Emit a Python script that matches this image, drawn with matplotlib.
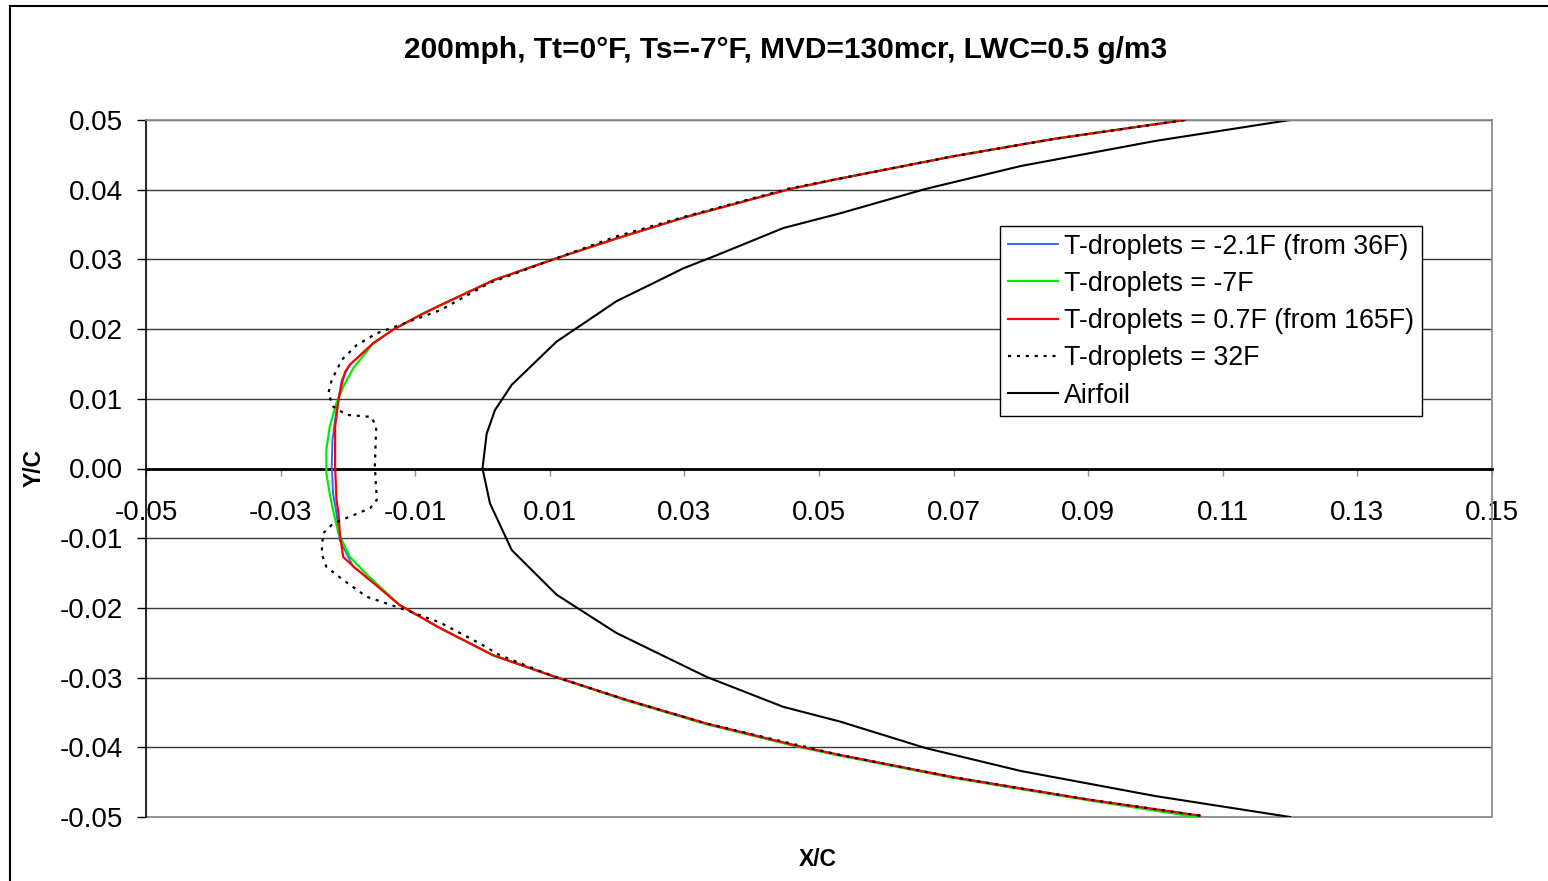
import matplotlib
matplotlib.use("Agg")
import matplotlib.pyplot as plt
from matplotlib.patches import Rectangle

plt.rcParams['font.family'] = ['Liberation Sans', 'DejaVu Sans']
plt.rcParams['axes.unicode_minus'] = False

# Ice shape contours, listed from the lower surface, around the leading edge, to the upper surface
red_x = [0.1066, 0.0900, 0.0700, 0.0531, 0.0472, 0.0333, 0.0214, 0.0105, 0.0016, -0.0063,
         -0.0123, -0.0155, -0.0190, -0.0207, -0.0212, -0.0214, -0.0217, -0.0219, -0.0219,
         -0.0214, -0.0209, -0.0204, -0.0197, -0.0162, -0.0133, -0.0093, -0.0063, 0.0016,
         0.0105, 0.0199, 0.0303, 0.0457, 0.0531, 0.0700, 0.0850, 0.1044]
red_y = [-0.0498, -0.0475, -0.0443, -0.0411, -0.0399, -0.0366, -0.0332, -0.0298, -0.0268, -0.0229,
         -0.0196, -0.0170, -0.0142, -0.0127, -0.0093, -0.0064, -0.0045, 0.0003, 0.0060,
         0.0098, 0.0122, 0.0139, 0.0149, 0.0180, 0.0199, 0.0220, 0.0234, 0.0270,
         0.0300, 0.0330, 0.0361, 0.0401, 0.0416, 0.0448, 0.0473, 0.0500]

green_x = [0.1060, 0.0900, 0.0700, 0.0531, 0.0472, 0.0333, 0.0214, 0.0105, 0.0016, -0.0063,
           -0.0123, -0.0172, -0.0197, -0.0214, -0.0222, -0.0227, -0.0232, -0.0232, -0.0227,
           -0.0217, -0.0207, -0.0192, -0.0162, -0.0133, -0.0093, -0.0063, 0.0016,
           0.0105, 0.0199, 0.0303, 0.0457, 0.0531, 0.0700, 0.0850, 0.1042]
green_y = [-0.0500, -0.0476, -0.0444, -0.0412, -0.0400, -0.0367, -0.0333, -0.0298, -0.0268, -0.0229,
           -0.0196, -0.0152, -0.0127, -0.0093, -0.0060, -0.0036, -0.0007, 0.0027, 0.0060,
           0.0094, 0.0117, 0.0144, 0.0180, 0.0199, 0.0220, 0.0234, 0.0270,
           0.0300, 0.0330, 0.0361, 0.0401, 0.0416, 0.0448, 0.0473, 0.0500]

blue_x = [0.1064, 0.0900, 0.0700, 0.0531, 0.0472, 0.0333, 0.0214, 0.0105, 0.0016, -0.0063,
          -0.0123, -0.0160, -0.0192, -0.0212, -0.0217, -0.0222, -0.0224, -0.0223, -0.0217,
          -0.0209, -0.0197, -0.0162, -0.0133, -0.0093, -0.0063, 0.0016,
          0.0105, 0.0199, 0.0303, 0.0457, 0.0531, 0.0700, 0.0850, 0.1043]
blue_y = [-0.0499, -0.0475, -0.0443, -0.0411, -0.0399, -0.0366, -0.0332, -0.0298, -0.0268, -0.0229,
          -0.0196, -0.0165, -0.0141, -0.0103, -0.0064, -0.0036, 0.0003, 0.0041, 0.0084,
          0.0127, 0.0149, 0.0180, 0.0199, 0.0220, 0.0234, 0.0270,
          0.0300, 0.0330, 0.0361, 0.0401, 0.0416, 0.0448, 0.0473, 0.0500]

dot_x = [0.1066, 0.0900, 0.0700, 0.0531, 0.0333, 0.0214, 0.0105, 0.0026, -0.0004, -0.0063,
         -0.0123, -0.0172, -0.0207, -0.0232, -0.0239, -0.0237, -0.0222, -0.0202, -0.0167,
         -0.0157, -0.0160, -0.0158, -0.0165, -0.0202, -0.0222, -0.0229, -0.0224, -0.0209,
         -0.0187, -0.0157, -0.0137, -0.0063, 0.0010, 0.0105, 0.0199, 0.0303, 0.0457,
         0.0531, 0.0700, 0.0850, 0.1044]
dot_y = [-0.0498, -0.0475, -0.0443, -0.0411, -0.0366, -0.0332, -0.0298, -0.0268, -0.0251, -0.0221,
         -0.0200, -0.0184, -0.0160, -0.0141, -0.0122, -0.0093, -0.0079, -0.0071, -0.0057,
         -0.0045, 0.0003, 0.0060, 0.0074, 0.0077, 0.0089, 0.0108, 0.0127, 0.0156,
         0.0177, 0.0194, 0.0201, 0.0227, 0.0266, 0.0300, 0.0333, 0.0362, 0.0402,
         0.0416, 0.0448, 0.0473, 0.0500]

airfoil_x = [0.1200, 0.1000, 0.0800, 0.0658, 0.0531, 0.0447, 0.0333, 0.0199, 0.0110, 0.00434,
             0.00111, 0.0000, 0.00062, 0.00186, 0.00434, 0.0110, 0.0150, 0.0199, 0.0254,
             0.0298, 0.0348, 0.0447, 0.0531, 0.0658, 0.0800, 0.1000, 0.1200]
airfoil_y = [-0.0500, -0.0470, -0.0434, -0.0401, -0.0363, -0.0342, -0.0299, -0.0236, -0.0181, -0.0117,
             -0.0050, 0.0000, 0.0050, 0.0084, 0.0120, 0.0182, 0.0208, 0.0240, 0.0266,
             0.0287, 0.0306, 0.0345, 0.0366, 0.0401, 0.0434, 0.0470, 0.0500]

labels = ['T-droplets = -2.1F (from 36F)', 'T-droplets = -7F',
          'T-droplets = 0.7F (from 165F)', 'T-droplets = 32F', 'Airfoil']
x_ticks = [-0.05, -0.03, -0.01, 0.01, 0.03, 0.05, 0.07, 0.09, 0.11, 0.13, 0.15]
y_ticks = [-0.05, -0.04, -0.03, -0.02, -0.01, 0.00, 0.01, 0.02, 0.03, 0.04, 0.05]

W, H = 1548, 881
fig = plt.figure(figsize=(W / 100, H / 100), dpi=100)
ax = fig.add_axes([146 / W, 1 - 817 / H, (1492 - 146) / W, (817 - 120) / H])

ax.plot(blue_x, blue_y, color='#3366ff', lw=1.4, label=labels[0], zorder=3)
ax.plot(green_x, green_y, color='#00ee00', lw=1.6, label=labels[1], zorder=4)
ax.plot(red_x, red_y, color='#ff0000', lw=1.6, label=labels[2], zorder=5)
ax.plot(dot_x, dot_y, color='black', lw=1.6, linestyle=(0, (1.4, 2.6)), label=labels[3], zorder=6)
ax.plot(airfoil_x, airfoil_y, color='black', lw=1.5, label=labels[4], zorder=2)

ax.set_xlim(-0.05, 0.15)
ax.set_ylim(-0.05, 0.05)
ax.set_xticks(x_ticks)
ax.set_yticks(y_ticks)
ax.set_xticklabels([f'{v:.2f}' for v in x_ticks])
ax.set_yticklabels([f'{v:.2f}' for v in y_ticks])

ax.yaxis.grid(True, color='#3a3a3a', lw=1.0, zorder=0)
ax.set_axisbelow(True)

ax.spines['bottom'].set_position(('data', 0))
ax.spines['bottom'].set_color('black')
ax.spines['bottom'].set_linewidth(2.0)
ax.spines['left'].set_color('black')
ax.spines['left'].set_linewidth(1.2)
for s in ('top', 'right'):
    ax.spines[s].set_color('#8c8c8c')
    ax.spines[s].set_linewidth(1.3)
ax.plot([0, 1], [0, 0], transform=ax.transAxes, color='#8c8c8c', lw=1.3, clip_on=False, zorder=1)

ax.tick_params(axis='x', direction='out', length=5, width=1, color='#8c8c8c',
               labelsize=20, pad=18)
ax.tick_params(axis='y', direction='out', length=6.5, width=1, color='black',
               labelsize=20, pad=10)

leg = ax.legend(loc='upper left', bbox_to_anchor=((1000 - 146) / 1346, (817 - 226) / 697),
                borderaxespad=0, fontsize=19.3, frameon=True, fancybox=False,
                edgecolor='black', framealpha=1, handlelength=1.9, handletextpad=0.22,
                labelspacing=0.42, borderpad=0.28)
leg.get_frame().set_linewidth(1.0)

fig.text(786 / W, 1 - 50 / H, '200mph, Tt=0°F, Ts=-7°F, MVD=130mcr, LWC=0.5 g/m3',
         ha='center', va='center', fontsize=21.5, fontweight='bold')
fig.text(818 / W, 1 - 859 / H, 'X/C', ha='center', va='center', fontsize=16.5, fontweight='bold')
fig.text(34 / W, 1 - 468 / H, 'Y/C', ha='center', va='center', rotation=90,
         fontsize=16.5, fontweight='bold')

fig.patches.append(Rectangle((10 / W, -0.1), 1.2, 1.1 - 6 / H, transform=fig.transFigure,
                             fill=False, edgecolor='black', lw=1.5))

fig.savefig('out.png', dpi=100)
